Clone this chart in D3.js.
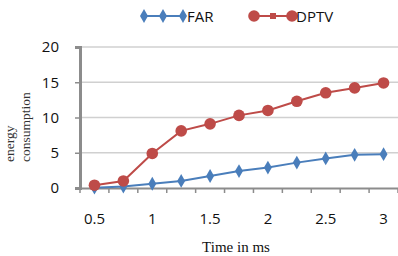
<!DOCTYPE html>
<html>
<head>
<script src="https://d3js.org/d3.v7.min.js"></script>
<style>
  body { margin: 0; background: #fff; }
  svg { display: block; }
</style>
</head>
<body>
<svg class="chart"></svg>
<script>
// data
var times = ["0.5", "0.75", "1", "1.25", "1.5", "1.75", "2", "2.25", "2.5", "2.75", "3"];
var farValues = [0.05, 0.2, 0.6, 1.0, 1.7, 2.4, 2.9, 3.6, 4.2, 4.7, 4.8];
var dptvValues = [0.4, 1.0, 4.9, 8.1, 9.1, 10.3, 11.0, 12.3, 13.5, 14.2, 14.9];
var yTicks = [0, 5, 10, 15, 20];

var width = 398, height = 256;
var margin = {top: 47, right: 0, bottom: 68, left: 80};

var svg = d3.select(".chart")
    .attr("width", width)
    .attr("height", height);

var x = d3.scaleBand()
    .domain(times)
    .range([margin.left, width - margin.right]);

var y = d3.scaleLinear()
    .domain([0, 20])
    .range([height - margin.bottom, margin.top]);

var blue = "#4a7ebb", red = "#be4b48";
var sans = "'Open Sans', 'DejaVu Sans', sans-serif";
var serif = "'Liberation Serif', 'DejaVu Serif', serif";

// gridlines
svg.append("g")
    .selectAll("line")
    .data(yTicks.slice(1))
    .enter().append("line")
    .attr("x1", margin.left)
    .attr("x2", width)
    .attr("y1", function(d){ return y(d) })
    .attr("y2", function(d){ return y(d) })
    .attr("stroke", "#d0d0d0")
    .attr("stroke-width", 1.5);

// y axis
var yAxis = svg.append("g")
    .attr("transform", "translate(" + margin.left + ",0)")
    .call(d3.axisLeft(y).tickValues(yTicks).tickSize(5).tickPadding(16));
yAxis.select(".domain").attr("stroke", "#8c8c8c").attr("stroke-width", 3);
yAxis.selectAll(".tick line").attr("stroke", "#8c8c8c").attr("stroke-width", 1.5);
yAxis.selectAll("text")
    .attr("font-family", sans)
    .attr("font-size", 15)
    .attr("fill", "#111");

// x axis, labels on every other category, ticks between categories
var xAxis = svg.append("g")
    .attr("transform", "translate(0," + y(0) + ")")
    .call(d3.axisBottom(x).tickSize(0).tickPadding(25)
        .tickFormat(function(d, i){ return i % 2 === 0 ? d : "" }));
xAxis.select(".domain").attr("stroke", "#8c8c8c").attr("stroke-width", 2);
xAxis.selectAll("text")
    .attr("font-family", sans)
    .attr("font-size", 15)
    .attr("fill", "#111");
xAxis.selectAll(".bound")
    .data(times.concat(["end"]))
    .enter().append("line")
    .attr("class", "bound")
    .attr("x1", function(d){ return d === "end" ? x.range()[1] : x(d) })
    .attr("x2", function(d){ return d === "end" ? x.range()[1] : x(d) })
    .attr("y1", 0)
    .attr("y2", 5)
    .attr("stroke", "#8c8c8c")
    .attr("stroke-width", 1.5);

function cx(d, i){ return x(times[i]) + x.bandwidth() / 2 }

var line = d3.line()
    .x(cx)
    .y(function(d){ return y(d) });

// FAR series
svg.append("path")
    .datum(farValues)
    .attr("fill", "none")
    .attr("stroke", blue)
    .attr("stroke-width", 2)
    .attr("d", line);
svg.append("g")
    .selectAll("path")
    .data(farValues)
    .enter().append("path")
    .attr("d", d3.symbol().type(d3.symbolDiamond).size(55))
    .attr("transform", function(d, i){ return "translate(" + cx(d, i) + "," + y(d) + ")" })
    .attr("fill", blue);

// DPTV series
svg.append("path")
    .datum(dptvValues)
    .attr("fill", "none")
    .attr("stroke", red)
    .attr("stroke-width", 2)
    .attr("d", line);
svg.append("g")
    .selectAll("circle")
    .data(dptvValues)
    .enter().append("circle")
    .attr("cx", cx)
    .attr("cy", function(d){ return y(d) })
    .attr("r", 5.8)
    .attr("fill", red);

// legend
var lg = svg.append("g").attr("transform", "translate(0,16)");
lg.append("line").attr("x1", 144).attr("x2", 183).attr("stroke", blue).attr("stroke-width", 2);
lg.selectAll(".ld")
    .data([144, 163, 183])
    .enter().append("path")
    .attr("d", d3.symbol().type(d3.symbolDiamond).size(55))
    .attr("transform", function(d){ return "translate(" + d + ",0)" })
    .attr("fill", blue);
lg.append("text").attr("x", 187).attr("y", 5.5)
    .attr("font-family", sans)
    .attr("font-size", 15).attr("fill", "#111").text("FAR");
lg.append("line").attr("x1", 254).attr("x2", 292).attr("stroke", red).attr("stroke-width", 2);
lg.append("circle").attr("cx", 254).attr("r", 5.8).attr("fill", red);
lg.append("circle").attr("cx", 292).attr("r", 5.8).attr("fill", red);
lg.append("rect").attr("x", 270).attr("y", -3).attr("width", 6).attr("height", 6).attr("fill", red);
lg.append("text").attr("x", 296).attr("y", 5.5)
    .attr("font-family", sans)
    .attr("font-size", 15).attr("fill", "#111").text("DPTV");

// axis titles
var yt = svg.append("text")
    .attr("transform", "translate(14,162) rotate(-90)")
    .attr("text-anchor", "start")
    .attr("font-family", serif)
    .attr("font-size", 13.5)
    .attr("fill", "#333");
yt.append("tspan").attr("x", 0).attr("dy", 0).text("energy");
yt.append("tspan").attr("x", 0).attr("dy", 16).text("consumption");

svg.append("text")
    .attr("x", 236)
    .attr("y", 252)
    .attr("text-anchor", "middle")
    .attr("font-family", serif)
    .attr("font-size", 15)
    .attr("fill", "#111")
    .text("Time in ms");
</script>
</body>
</html>
